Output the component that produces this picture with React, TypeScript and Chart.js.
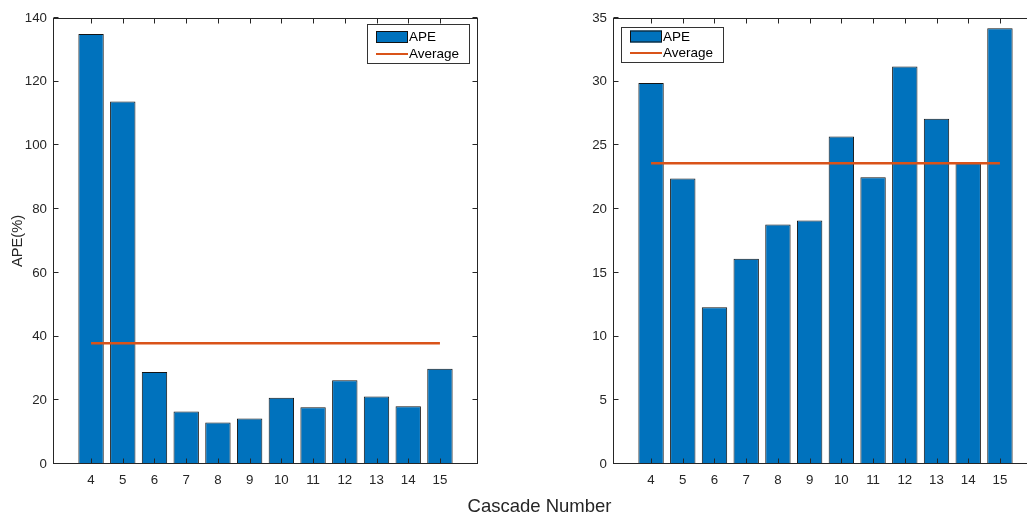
import React, { useEffect, useRef } from 'react';
import { Chart, registerables } from 'chart.js';

Chart.register(...registerables);

// ---- data ----
const cascadeNumbers = [4, 5, 6, 7, 8, 9, 10, 11, 12, 13, 14, 15];
const leftApe = [135.0, 113.8, 28.9, 16.5, 13.0, 14.3, 20.8, 17.8, 26.3, 21.2, 18.1, 29.9];
const leftAverage = 37.9;
const rightApe = [29.9, 22.4, 12.3, 16.1, 18.8, 19.1, 25.7, 22.5, 31.2, 27.1, 23.65, 34.2];
const rightAverage = 23.6;
const leftYTicks = [0, 20, 40, 60, 80, 100, 120, 140];
const rightYTicks = [0, 5, 10, 15, 20, 25, 30, 35];
const seriesLabels = ['APE', 'Average'];
const yTitleText = 'APE(%)';
const xTitleText = 'Cascade Number';

const FONT = "'Liberation Sans', Arial, Helvetica, sans-serif";
const AXIS_COLOR = '#262626';
const BAR_COLOR = '#0072BD';
const LINE_COLOR = '#D95319';

Chart.defaults.font.family = FONT;
Chart.defaults.color = AXIS_COLOR;

const framePlugin = {
  id: 'matlabFrame',
  afterDatasetsDraw(chart: any, _args: any, opts: any) {
    const { ctx, chartArea: a, scales } = chart;
    ctx.save();
    ctx.strokeStyle = AXIS_COLOR;
    ctx.lineWidth = 1;
    const L = Math.round(a.left) + 0.5;
    const R = Math.round(a.right) - 0.5;
    const T = Math.round(a.top) + 0.5;
    const B = Math.round(a.bottom) - 0.5;
    ctx.strokeRect(L, T, R - L, B - T);
    const tl = 5;
    ctx.beginPath();
    scales.x.ticks.forEach((t: any) => {
      const px = Math.round(scales.x.getPixelForValue(t.value)) + 0.5;
      ctx.moveTo(px, B);
      ctx.lineTo(px, B - tl);
      ctx.moveTo(px, T);
      ctx.lineTo(px, T + tl);
    });
    scales.y.ticks.forEach((t: any) => {
      const py = Math.round(scales.y.getPixelForValue(t.value)) - 0.5;
      ctx.moveTo(L, py);
      ctx.lineTo(L + tl, py);
      ctx.moveTo(R, py);
      ctx.lineTo(R - tl, py);
    });
    ctx.stroke();

    // legend
    const w = 103;
    const h = opts.h;
    const bx = opts.side === 'right' ? Math.round(a.right) - opts.dx - w : Math.round(a.left) + opts.dx;
    const by = Math.round(a.top) + opts.dy;
    ctx.fillStyle = '#ffffff';
    ctx.fillRect(bx, by, w, h);
    ctx.strokeStyle = '#333333';
    ctx.strokeRect(bx + 0.5, by + 0.5, w - 1, h - 1);
    const ds = chart.data.datasets;
    const barDs = ds.find((d: any) => d.type === 'bar');
    const lineDs = ds.find((d: any) => d.type === 'line');
    const px0 = bx + 9;
    const pw = 32;
    const r1 = by + opts.r1;
    const r2 = by + opts.r2;
    ctx.fillStyle = barDs.backgroundColor;
    ctx.fillRect(px0, r1 - 6, pw, 12);
    ctx.strokeStyle = '#111111';
    ctx.strokeRect(px0 + 0.5, r1 - 6 + 0.5, pw - 1, 11);
    ctx.strokeStyle = lineDs.borderColor;
    ctx.lineWidth = 2;
    ctx.beginPath();
    ctx.moveTo(px0, r2);
    ctx.lineTo(px0 + pw, r2);
    ctx.stroke();
    ctx.fillStyle = '#000000';
    ctx.font = `13.5px ${FONT}`;
    ctx.textBaseline = 'middle';
    ctx.textAlign = 'left';
    ctx.fillText(barDs.label, px0 + pw + 1, r1 + 0.5);
    ctx.fillText(lineDs.label, px0 + pw + 1, r2 + 0.5);
    ctx.restore();
  },
};

type PanelProps = {
  left: number;
  values: number[];
  average: number;
  yMax: number;
  yTicks: number[];
  yTitle?: string;
  legend: { side: string; dx: number; dy: number; h: number; r1: number; r2: number };
};

function Panel({ left, values, average, yMax, yTicks, yTitle, legend }: PanelProps) {
  const ref = useRef<HTMLCanvasElement>(null);
  useEffect(() => {
    const chart = new Chart(ref.current as HTMLCanvasElement, {
      type: 'bar',
      data: {
        datasets: [
          {
            type: 'line',
            label: seriesLabels[1],
            data: [
              { x: cascadeNumbers[0], y: average },
              { x: cascadeNumbers[cascadeNumbers.length - 1], y: average },
            ],
            borderColor: LINE_COLOR,
            borderWidth: 2.5,
            pointRadius: 0,
            fill: false,
            order: 1,
          },
          {
            type: 'bar',
            label: seriesLabels[0],
            data: cascadeNumbers.map((c, i) => ({ x: c, y: values[i] })),
            backgroundColor: BAR_COLOR,
            borderColor: '#141414',
            borderWidth: 1,
            borderSkipped: false,
            categoryPercentage: 1,
            barPercentage: 0.8,
            order: 2,
          },
        ] as any,
      },
      options: {
        animation: false,
        responsive: false,
        devicePixelRatio: 1,
        layout: { padding: { top: 18, right: 42, left: 0, bottom: 0 } },
        plugins: {
          legend: { display: false },
          tooltip: { enabled: false },
          matlabFrame: legend,
        } as any,
        scales: {
          x: {
            type: 'linear',
            min: 2.8,
            max: 16.2,
            offset: false,
            afterBuildTicks: (s: any) => {
              s.ticks = cascadeNumbers.map((v) => ({ value: v }));
            },
            afterFit: (s: any) => {
              s.height = 51;
            },
            grid: { display: false, drawTicks: false, offset: false },
            border: { display: false },
            ticks: {
              padding: 8,
              color: AXIS_COLOR,
              font: { size: 13.3 },
              autoSkip: false,
              maxRotation: 0,
            },
          },
          y: {
            type: 'linear',
            min: 0,
            max: yMax,
            afterBuildTicks: (s: any) => {
              s.ticks = yTicks.map((v) => ({ value: v }));
            },
            afterFit: (s: any) => {
              s.width = 53;
            },
            grid: { display: false, drawTicks: false },
            border: { display: false },
            ticks: {
              padding: 6,
              color: AXIS_COLOR,
              font: { size: 13.3 },
            },
            title: {
              display: !!yTitle,
              text: yTitle || '',
              color: AXIS_COLOR,
              font: { size: 14.67 },
              padding: { top: 9.5, bottom: 0 },
            },
          },
        } as any,
      },
      plugins: [framePlugin as any],
    });
    return () => chart.destroy();
  }, []);
  return (
    <canvas
      ref={ref}
      width={520}
      height={515}
      style={{ position: 'absolute', left, top: 0, width: 520, height: 515 }}
    />
  );
}

export default function App() {
  return (
    <div
      style={{
        position: 'fixed',
        left: 0,
        top: 0,
        width: 1027,
        height: 515,
        overflow: 'hidden',
        background: '#ffffff',
      }}
    >
      <Panel
        left={0}
        values={leftApe}
        average={leftAverage}
        yMax={140}
        yTicks={leftYTicks}
        yTitle={yTitleText}
        legend={{ side: 'right', dx: 8, dy: 6, h: 40, r1: 13, r2: 30 }}
      />
      <Panel
        left={560}
        values={rightApe}
        average={rightAverage}
        yMax={35}
        yTicks={rightYTicks}
        legend={{ side: 'left', dx: 8, dy: 9, h: 36, r1: 9.5, r2: 26 }}
      />
      <div
        style={{
          position: 'absolute',
          left: 539.5,
          top: 497.3,
          transform: 'translateX(-50%)',
          fontFamily: FONT,
          fontSize: 18.5,
          lineHeight: 1,
          color: AXIS_COLOR,
          whiteSpace: 'nowrap',
        }}
      >
        {xTitleText}
      </div>
    </div>
  );
}
